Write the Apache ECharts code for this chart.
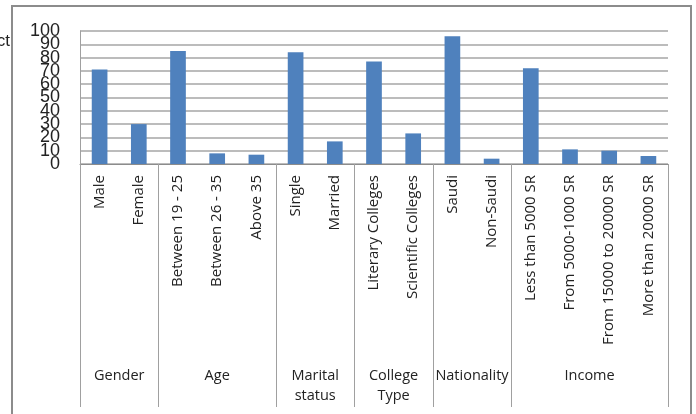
<!DOCTYPE html>
<html>
<head>
<meta charset="utf-8">
<script src="https://cdn.jsdelivr.net/npm/echarts@6/dist/echarts.min.js"></script>
<style>
  html, body { margin: 0; padding: 0; background: #fff; }
  #chart { width: 696px; height: 414px; }
</style>
</head>
<body>
<div id="chart"></div>
<script>
// categories and values
var categories = [
  "Male", "Female",
  "Between 19 - 25", "Between 26 - 35", "Above 35",
  "Single", "Married",
  "Literary Colleges", "Scientific Colleges",
  "Saudi", "Non-Saudi",
  "Less than 5000 SR", "From 5000-1000 SR", "From 15000 to 20000 SR", "More than 20000 SR"
];
var values = [71, 30, 85, 8, 7, 84, 17, 77, 23, 96, 4, 72, 11, 10, 6];

// groups: name + how many categories each covers
var groupNames = ["Gender", "Age", "Marital\nstatus", "College\nType", "Nationality", "Income"];
var groupSizes = [2, 3, 2, 2, 2, 4];

// y tick labels, split in two sets so the crowded labels all get drawn
var yTicksEven = [0, 20, 40, 60, 80, 100];
var yTicksOdd = [10, 30, 50, 70, 90];

// group boundaries and centres on a 0..n scale
var bounds = [0];
groupSizes.forEach(function (s) { bounds.push(bounds[bounds.length - 1] + s); });
var centres = [];
for (var i = 0; i < groupSizes.length; i++) {
  centres.push((bounds[i] + bounds[i + 1]) / 2);
}

function yAxisWith(ticks, main) {
  return {
    type: "value",
    position: "left",
    min: 0,
    max: 100,
    interval: 10,
    axisLine: { show: main, lineStyle: { color: "#a0a0a0" } },
    axisTick: { show: false },
    splitLine: { show: main, lineStyle: { color: "#a6a6a6", width: 1.5 } },
    axisLabel: {
      margin: 20,
      showMinLabel: true,
      showMaxLabel: true,
      fontFamily: "Liberation Sans",
      fontSize: 18,
      color: "#222",
      formatter: function (v) { return ticks.indexOf(v) >= 0 ? String(v) : ""; }
    }
  };
}

var chart = echarts.init(document.getElementById("chart"));
var option = {
  animation: false,
  grid: { left: 80, right: 28, top: 31, bottom: 250 },
  graphic: [
    {
      type: "rect",
      shape: { x: 12, y: 6, width: 679, height: 420 },
      style: { fill: "none", stroke: "#8c8c8c", lineWidth: 2 }
    },
    {
      type: "text",
      right: 686,
      top: 33,
      style: { text: "ct", fontFamily: "Liberation Sans", fontSize: 17, fill: "#222" }
    }
  ],
  xAxis: [
    {
      type: "category",
      data: categories,
      axisLine: { lineStyle: { color: "#8c8c8c" } },
      axisTick: { show: false },
      axisLabel: {
        rotate: 90,
        margin: 11,
        interval: 0,
        fontFamily: "Open Sans",
        fontSize: 15,
        color: "#222"
      }
    },
    {
      type: "value",
      position: "bottom",
      min: 0,
      max: categories.length,
      axisLine: { show: false },
      splitLine: { show: false },
      axisTick: {
        show: true,
        customValues: bounds,
        length: 243,
        lineStyle: { color: "#a0a0a0" }
      },
      axisLabel: {
        customValues: centres,
        margin: 202,
        fontFamily: "Open Sans",
        fontSize: 14.5,
        color: "#222",
        lineHeight: 20,
        verticalAlign: "top",
        formatter: function (v) {
          var k = centres.indexOf(v);
          return k >= 0 ? groupNames[k] : "";
        }
      }
    }
  ],
  yAxis: [yAxisWith(yTicksEven, true), yAxisWith(yTicksOdd, false)],
  series: [
    {
      type: "bar",
      data: values,
      barWidth: "40%",
      itemStyle: { color: "#4f81bd" }
    }
  ]
};
chart.setOption(option);
</script>
</body>
</html>
